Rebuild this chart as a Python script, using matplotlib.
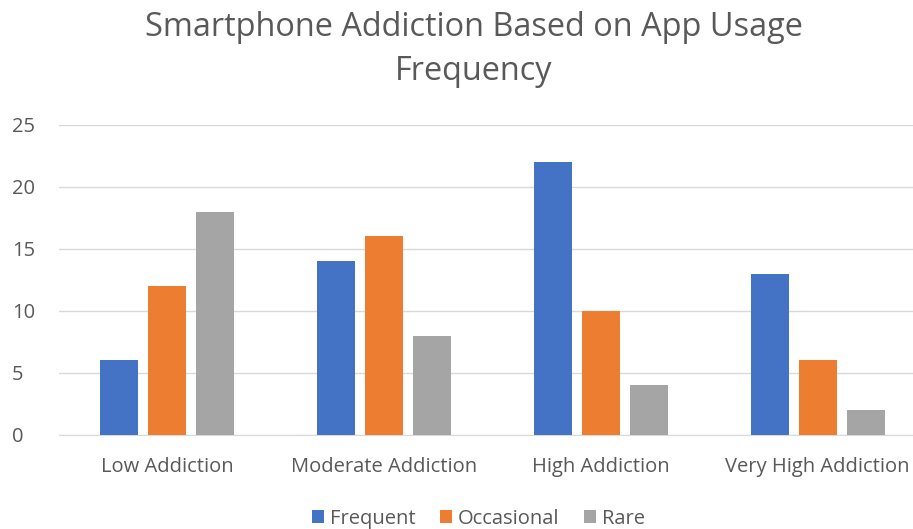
import matplotlib.pyplot as plt
import numpy as np

# Datos
categorias = ['Low Addiction', 'Moderate Addiction', 'High Addiction', 'Very High Addiction']
frecuente = [6, 14, 22, 13]
ocasional = [12, 16, 10, 6]
rara = [18, 8, 4, 2]
series = ['Frequent', 'Occasional', 'Rare']
colores = ['#4472C4', '#ED7D31', '#A5A5A5']

plt.rcParams['font.family'] = ['Open Sans', 'DejaVu Sans']
gris_texto = '#595959'

fig = plt.figure(figsize=(9.13, 5.29), dpi=100)
ax = fig.add_axes([0.0646, 0.178, 0.9496, 0.586])

x = np.arange(len(categorias))
ancho = 0.175
paso = 0.2215
for i, (vals, nombre, col) in enumerate(zip([frecuente, ocasional, rara], series, colores)):
    ax.bar(x + (i - 1) * paso, vals, width=ancho, color=col, label=nombre, zorder=3)

ax.set_xlim(-0.5, len(categorias) - 0.5)
ax.set_ylim(0, 25)
ax.set_yticks(range(0, 26, 5))
ax.set_xticks(x)
ax.set_xticklabels(categorias)
ax.tick_params(axis='both', length=0, labelsize=14.5, colors=gris_texto)
ax.tick_params(axis='x', pad=16)
ax.tick_params(axis='y', pad=34)
for lbl in ax.get_yticklabels():
    lbl.set_horizontalalignment('left')
ax.yaxis.grid(True, color='#D9D9D9', linewidth=1, zorder=0)
for lado in ['top', 'right', 'left']:
    ax.spines[lado].set_visible(False)
ax.spines['bottom'].set_color('#D9D9D9')

fig.text(0.519, 0.948, 'Smartphone Addiction Based on App Usage', ha='center', va='center',
         fontsize=23.4, color=gris_texto)
fig.text(0.519, 0.864, 'Frequency', ha='center', va='center', fontsize=23.4, color=gris_texto)

fig.legend(loc='lower center', bbox_to_anchor=(0.524, -0.034), ncol=3, frameon=False,
           fontsize=14.5, labelcolor=gris_texto, handlelength=0.6, handleheight=0.6,
           handletextpad=0.3, columnspacing=1.2)

fig.savefig('out.png', dpi=100)
